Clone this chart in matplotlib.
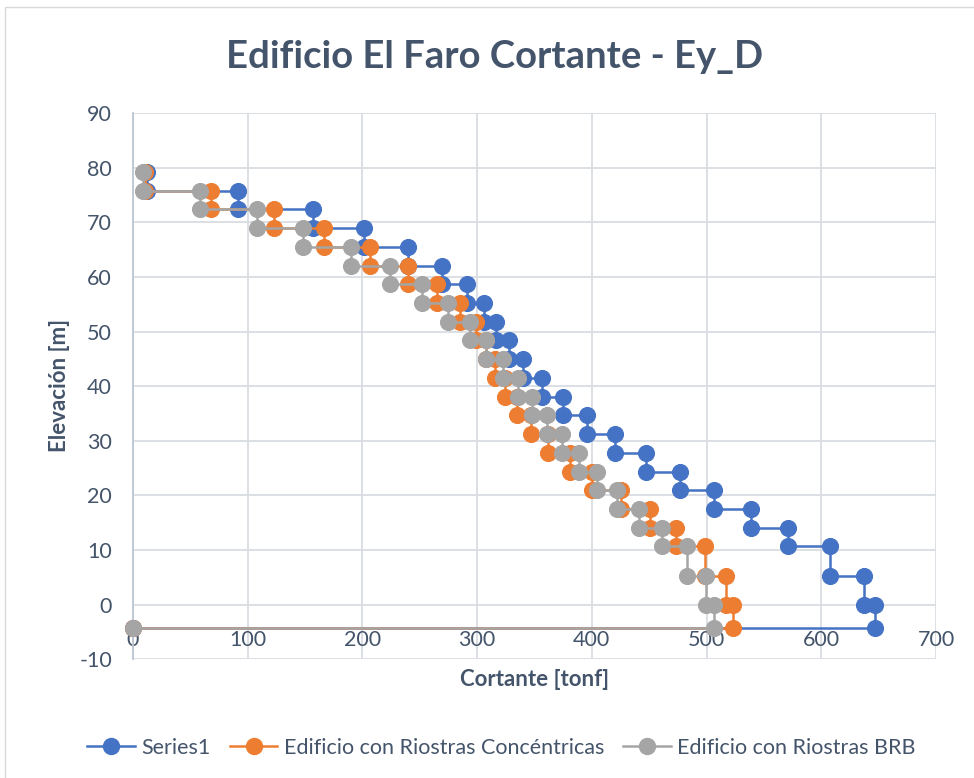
import numpy as np
import matplotlib.pyplot as plt
from matplotlib.lines import Line2D
from matplotlib.patches import Rectangle

plt.rcParams['font.family'] = ['Lato', 'DejaVu Sans']
plt.rcParams['axes.unicode_minus'] = False

# Floor elevations [m], from the basement slab up to the roof
levels = [-4.3, 0.0, 5.33, 10.66, 14.09, 17.52, 20.95, 24.38, 27.81, 31.24,
          34.67, 38.10, 41.53, 44.96, 48.39, 51.82, 55.25, 58.68, 62.11,
          65.54, 68.97, 72.40, 75.83, 79.26]

# Story shear [tonf], basement story first
shear_series1 = [647.2, 637.6, 607.8, 570.9, 538.4, 506.5, 476.6, 447.6,
                 420.5, 396.2, 374.9, 356.3, 340.1, 327.9, 316.9, 305.8,
                 291.6, 269.8, 239.9, 201.3, 156.6, 91.3, 12.5]
shear_concentricas = [523.0, 517.2, 498.6, 473.8, 450.4, 425.8, 400.5, 380.7,
                      361.9, 347.4, 334.9, 324.7, 315.2, 307.5, 299.5, 284.9,
                      265.5, 239.9, 207.1, 166.7, 123.2, 67.7, 10.5]
shear_brb = [506.2, 499.8, 482.6, 461.5, 441.1, 421.8, 404.5, 388.9, 374.4,
             361.0, 348.3, 335.7, 322.7, 308.2, 294.2, 274.8, 251.6, 224.0,
             190.0, 148.4, 107.8, 58.4, 8.5]

labels = ["Series1", "Edificio con Riostras Concéntricas",
          "Edificio con Riostras BRB"]
colors = ["#4472C4", "#ED7D31", "#A5A5A5"]

x_ticks = [0, 100, 200, 300, 400, 500, 600, 700]
y_ticks = [-10, 0, 10, 20, 30, 40, 50, 60, 70, 80, 90]

text_color = "#44546A"
grid_color = "#D9DDE3"


def step_profile(shear, elev):
    # each story is drawn at its top and bottom level, roof down
    xs, ys = [], []
    for i in range(len(shear) - 1, -1, -1):
        xs += [shear[i], shear[i]]
        ys += [elev[i + 1], elev[i]]
    xs.append(0)
    ys.append(elev[0])
    return np.array(xs), np.array(ys)


fig = plt.figure(figsize=(9.74, 7.78), dpi=100)
ax = fig.add_axes([0.1364, 0.1526, 0.8246, 0.7018])

for k, shear in enumerate([shear_series1, shear_concentricas, shear_brb]):
    xs, ys = step_profile(shear, levels)
    ax.plot(xs, ys, color=colors[k], lw=1.8, marker='o', markersize=11.5,
            markeredgecolor=colors[k], markeredgewidth=0.8, zorder=3 + k,
            clip_on=False)

ax.set_xlim(0, 700)
ax.set_ylim(-10, 90)
ax.set_xticks(x_ticks)
ax.set_yticks(y_ticks)
ax.grid(True, color=grid_color, lw=1.3, zorder=0)
ax.set_axisbelow(True)

for side in ['top', 'right']:
    ax.spines[side].set_visible(False)
ax.spines['left'].set_color('#BCC5D3')
ax.spines['left'].set_linewidth(1.3)
# horizontal axis crosses at the basement level
ax.spines['bottom'].set_position(('data', -4.3))
ax.spines['bottom'].set_color('none')

ax.tick_params(axis='both', length=0, labelsize=15.5, labelcolor=text_color)
ax.tick_params(axis='x', pad=1)
ax.tick_params(axis='y', pad=15)

fig.text(0.508, 0.927, "Edificio El Faro Cortante - Ey_D", ha='center',
         va='center', fontsize=27.5, fontweight='bold', color=text_color)
fig.text(0.549, 0.126, "Cortante [tonf]", ha='center', va='center',
         fontsize=16, fontweight='bold', color=text_color)
fig.text(0.0616, 0.505, "Elevación [m]", ha='center', va='center',
         rotation=90, fontsize=16, fontweight='bold', color=text_color)

handles = [Line2D([], [], color=c, lw=1.8, marker='o', markersize=11.5)
           for c in colors]
fig.legend(handles, labels, loc='center', bbox_to_anchor=(0.515, 0.0386),
           ncol=3, frameon=False, fontsize=15.5, labelcolor=text_color,
           handlelength=2.2, handletextpad=0.3, columnspacing=0.9)

# chart area border
fig.patches.append(Rectangle((5 / 974, -0.01), 1.0, 1.0 - 7 / 778 + 0.01,
                             transform=fig.transFigure, fill=False,
                             edgecolor='#D9D9D9', lw=1.0))

fig.savefig("out.png", dpi=100)
